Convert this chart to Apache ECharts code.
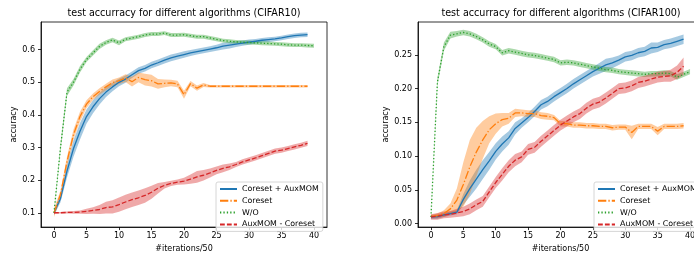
<!DOCTYPE html>
<html>
<head>
<meta charset="utf-8">
<script src="https://cdn.jsdelivr.net/npm/echarts@6/dist/echarts.min.js"></script>
<style>
  html, body { margin: 0; padding: 0; overflow: hidden; background: #fff; }
  #chart { width: 720px; height: 258px; }
</style>
</head>
<body>
<div id="chart"></div>
<script>
// legend names
const names = ['Coreset + AuxMOM', 'Coreset', 'W/O', 'AuxMOM - Coreset'];
const xTicks = [0, 5, 10, 15, 20, 25, 30, 35, 40];
const c10Ticks = [0.1, 0.2, 0.3, 0.4, 0.5, 0.6];
const c100Ticks = [0, 0.05, 0.1, 0.15, 0.2, 0.25];

// CIFAR10 (x = 0..n-1)
const c10Aux = [0.100,0.144,0.228,0.297,0.350,0.395,0.425,0.450,0.470,0.486,
  0.500,0.510,0.523,0.536,0.543,0.553,0.560,0.568,0.575,0.580,
  0.585,0.590,0.594,0.598,0.602,0.606,0.611,0.614,0.617,0.620,
  0.623,0.626,0.629,0.631,0.633,0.636,0.640,0.643,0.645,0.646];
const c10AuxSd = [0.008,0.012,0.020,0.025,0.025,0.022,0.020,0.018,0.015,0.013,
  0.012,0.011,0.010,0.010,0.010,0.010,0.010,0.010,0.010,0.010,
  0.010,0.009,0.009,0.009,0.009,0.009,0.010,0.010,0.009,0.008,
  0.008,0.007,0.007,0.007,0.007,0.007,0.007,0.007,0.007,0.007];
const c10Core = [0.100,0.156,0.257,0.340,0.395,0.433,0.456,0.472,0.486,0.499,
  0.505,0.513,0.502,0.515,0.508,0.505,0.495,0.497,0.498,0.495,
  0.462,0.496,0.482,0.492,0.488,0.488,0.488,0.488,0.488,0.488,
  0.488,0.488,0.488,0.488,0.488,0.488,0.488,0.488,0.488,0.488];
const c10CoreSd = [0.013,0.012,0.015,0.015,0.015,0.012,0.010,0.010,0.010,0.010,
  0.010,0.012,0.015,0.015,0.018,0.018,0.015,0.012,0.010,0.010,
  0.012,0.008,0.008,0.006,0.004,0.004,0.004,0.004,0.004,0.004,
  0.004,0.004,0.004,0.004,0.004,0.004,0.004,0.004,0.004,0.004];
const c10Wo = [0.100,0.300,0.470,0.500,0.540,0.570,0.590,0.610,0.622,0.630,
  0.621,0.632,0.636,0.640,0.645,0.648,0.648,0.651,0.645,0.645,
  0.646,0.643,0.640,0.640,0.636,0.632,0.628,0.626,0.624,0.623,
  0.622,0.621,0.620,0.619,0.618,0.617,0.615,0.614,0.614,0.613,
  0.612];
const c10WoSd = [0.004,0.012,0.012,0.010,0.010,0.008,0.008,0.008,0.007,0.007,
  0.007,0.006,0.006,0.006,0.006,0.006,0.006,0.006,0.006,0.006,
  0.006,0.006,0.006,0.006,0.006,0.006,0.006,0.006,0.006,0.006,
  0.006,0.006,0.006,0.006,0.006,0.006,0.006,0.006,0.006,0.006,
  0.006];
const c10Diff = [0.100,0.100,0.101,0.101,0.102,0.104,0.107,0.110,0.116,0.118,
  0.125,0.133,0.140,0.146,0.153,0.163,0.175,0.184,0.190,0.194,
  0.197,0.203,0.210,0.215,0.222,0.230,0.236,0.241,0.248,0.256,
  0.262,0.268,0.275,0.282,0.289,0.292,0.297,0.302,0.307,0.313];
const c10DiffSd = [0.002,0.002,0.003,0.004,0.005,0.008,0.010,0.014,0.018,0.020,
  0.022,0.022,0.022,0.022,0.022,0.020,0.016,0.010,0.008,0.008,
  0.010,0.014,0.018,0.016,0.014,0.012,0.012,0.010,0.008,0.008,
  0.008,0.008,0.008,0.008,0.008,0.008,0.008,0.008,0.008,0.008];

// CIFAR100
const c100Aux = [0.010,0.0105,0.013,0.015,0.017,0.036,0.052,0.066,0.080,0.093,
  0.107,0.118,0.127,0.141,0.149,0.157,0.166,0.176,0.181,0.188,
  0.194,0.200,0.207,0.213,0.219,0.225,0.230,0.235,0.238,0.242,
  0.247,0.249,0.253,0.255,0.260,0.261,0.265,0.267,0.270,0.273];
const c100AuxSd = [0.003,0.003,0.003,0.003,0.003,0.008,0.012,0.014,0.014,0.013,
  0.012,0.011,0.010,0.009,0.007,0.007,0.007,0.007,0.007,0.007,
  0.007,0.007,0.007,0.007,0.007,0.007,0.008,0.009,0.008,0.007,
  0.007,0.007,0.007,0.007,0.008,0.007,0.007,0.007,0.007,0.007];
const c100Core = [0.011,0.012,0.015,0.022,0.035,0.058,0.084,0.106,0.124,0.139,
  0.148,0.154,0.156,0.164,0.164,0.163,0.163,0.160,0.159,0.157,
  0.148,0.148,0.146,0.146,0.145,0.145,0.144,0.144,0.142,0.143,
  0.143,0.135,0.144,0.144,0.144,0.137,0.144,0.144,0.144,0.145];
const c100CoreSd = [0.002,0.003,0.005,0.008,0.017,0.033,0.040,0.036,0.028,0.020,
  0.015,0.010,0.008,0.006,0.005,0.005,0.005,0.005,0.005,0.004,
  0.004,0.004,0.004,0.004,0.004,0.004,0.004,0.004,0.004,0.004,
  0.004,0.010,0.004,0.004,0.004,0.006,0.004,0.004,0.004,0.004];
const c100Wo = [0.010,0.210,0.262,0.279,0.281,0.283,0.281,0.277,0.272,0.266,
  0.262,0.253,0.256,0.254,0.252,0.250,0.249,0.247,0.245,0.243,
  0.238,0.239,0.238,0.236,0.234,0.232,0.230,0.228,0.227,0.225,
  0.224,0.223,0.222,0.221,0.222,0.222,0.223,0.222,0.217,0.221,
  0.225];
const c100WoSd = [0.002,0.006,0.006,0.005,0.004,0.004,0.004,0.004,0.004,0.004,
  0.004,0.004,0.004,0.004,0.004,0.004,0.004,0.004,0.004,0.004,
  0.004,0.004,0.004,0.004,0.004,0.004,0.004,0.004,0.004,0.004,
  0.004,0.004,0.004,0.004,0.004,0.004,0.004,0.004,0.004,0.004,
  0.004];
const c100Diff = [0.010,0.011,0.013,0.014,0.016,0.018,0.022,0.028,0.033,0.047,
  0.061,0.073,0.085,0.094,0.099,0.110,0.113,0.122,0.130,0.138,
  0.146,0.152,0.158,0.163,0.171,0.177,0.180,0.186,0.193,0.200,
  0.201,0.204,0.209,0.211,0.214,0.217,0.218,0.219,0.224,0.233];
const c100DiffSd = [0.004,0.005,0.005,0.005,0.006,0.007,0.008,0.008,0.008,0.008,
  0.008,0.009,0.009,0.009,0.008,0.008,0.008,0.008,0.008,0.008,
  0.008,0.008,0.008,0.008,0.008,0.008,0.008,0.008,0.008,0.008,
  0.008,0.008,0.008,0.008,0.008,0.008,0.008,0.009,0.010,0.013];

const colors = ['#1f77b4', '#ff7f0e', '#2ca02c', '#d62728'];
const bandColors = ['rgba(31,119,180,0.4)', 'rgba(255,127,14,0.4)', 'rgba(44,160,44,0.4)', 'rgba(214,39,40,0.4)'];
const dashes = ['solid', [8.3, 2.1, 1.3, 2.1], [1.3, 2.1], [4.8, 2.1]];
const FONT = 'DejaVu Sans';

function band(idx, mean, sd, color) {
  const pts = mean.map((m, i) => [i, m - sd[i], m + sd[i]]);
  return {
    type: 'custom', xAxisIndex: idx, yAxisIndex: idx, silent: true, clip: true,
    data: pts, encode: { x: 0, y: [1, 2] },
    renderItem: (params, api) => {
      if (params.dataIndex !== 0) return null;
      const up = pts.map(p => api.coord([p[0], p[2]]));
      const lo = pts.map(p => api.coord([p[0], p[1]])).reverse();
      return { type: 'polygon', shape: { points: up.concat(lo) }, style: { fill: color } };
    }
  };
}

function line(idx, k, mean) {
  return {
    name: names[k], type: 'line', xAxisIndex: idx, yAxisIndex: idx,
    data: mean.map((v, i) => [i, v]),
    symbol: 'none', silent: true,
    lineStyle: { color: colors[k], width: 1.3, type: dashes[k] },
    itemStyle: { color: colors[k] }
  };
}

const sets = [
  [[c10Aux, c10AuxSd], [c10Core, c10CoreSd], [c10Wo, c10WoSd], [c10Diff, c10DiffSd]],
  [[c100Aux, c100AuxSd], [c100Core, c100CoreSd], [c100Wo, c100WoSd], [c100Diff, c100DiffSd]]
];
const series = [];
sets.forEach((s, idx) => {
  s.forEach((d, k) => {
    series.push(band(idx, d[0], d[1], bandColors[k]));
    series.push(line(idx, k, d[0]));
  });
});

function xAxis(idx) {
  return {
    type: 'value', gridIndex: idx, min: -2, max: 42,
    name: '#iterations/50', nameLocation: 'middle', nameGap: 15,
    nameTextStyle: { fontFamily: FONT, fontSize: 8, color: '#000' },
    axisLine: { onZero: false, lineStyle: { color: '#000', width: 0.8 } },
    axisTick: { length: 3, lineStyle: { color: '#000', width: 0.8 }, customValues: xTicks },
    axisLabel: { customValues: xTicks, margin: 5, fontFamily: FONT, fontSize: 8, color: '#000' },
    splitLine: { show: false }
  };
}
function yAxis(idx, min, max, ticks, digits, gap) {
  return {
    type: 'value', gridIndex: idx, min: min, max: max,
    name: 'accuracy', nameLocation: 'middle', nameGap: gap,
    nameTextStyle: { fontFamily: FONT, fontSize: 8, color: '#000' },
    axisLine: { show: true, onZero: false, lineStyle: { color: '#000', width: 0.8 } },
    axisTick: { show: true, length: 3, lineStyle: { color: '#000', width: 0.8 }, customValues: ticks },
    axisLabel: { customValues: ticks, margin: 6, fontFamily: FONT, fontSize: 8, color: '#000',
      formatter: v => v.toFixed(digits) },
    splitLine: { show: false }
  };
}
function legend(left) {
  return {
    data: names, orient: 'vertical', left: left, top: 182,
    itemWidth: 17, itemHeight: 8, itemGap: 3.8, selectedMode: false,
    itemStyle: { opacity: 0 },
    backgroundColor: 'rgba(255,255,255,0.8)', borderColor: '#cccccc', borderWidth: 0.8,
    borderRadius: 2, padding: [3, 4, 3, 3],
    textStyle: { fontFamily: FONT, fontSize: 7.9, color: '#000' }
  };
}

const option = {
  animation: false,
  backgroundColor: '#fff',
  title: [
    { text: 'test accurracy for different algorithms (CIFAR10)', left: 184, top: 8, padding: 0, textAlign: 'center',
      textStyle: { fontFamily: FONT, fontSize: 9.6, fontWeight: 'normal', color: '#000' } },
    { text: 'test accurracy for different algorithms (CIFAR100)', left: 561, top: 8, padding: 0, textAlign: 'center',
      textStyle: { fontFamily: FONT, fontSize: 9.6, fontWeight: 'normal', color: '#000' } }
  ],
  grid: [
    { left: 41, top: 22, width: 286, height: 213, show: true, borderColor: '#000', borderWidth: 0.8, backgroundColor: 'transparent' },
    { left: 418, top: 22, width: 285, height: 213, show: true, borderColor: '#000', borderWidth: 0.8, backgroundColor: 'transparent' }
  ],
  xAxis: [xAxis(0), xAxis(1)],
  yAxis: [yAxis(0, 0.056, 0.685, c10Ticks, 1, 22), yAxis(1, -0.005, 0.2985, c100Ticks, 2, 26)],
  legend: [legend(216), legend(594)],
  series: series
};

const chart = echarts.init(document.getElementById('chart'), null, { renderer: 'canvas' });
chart.setOption(option);
</script>
</body>
</html>
